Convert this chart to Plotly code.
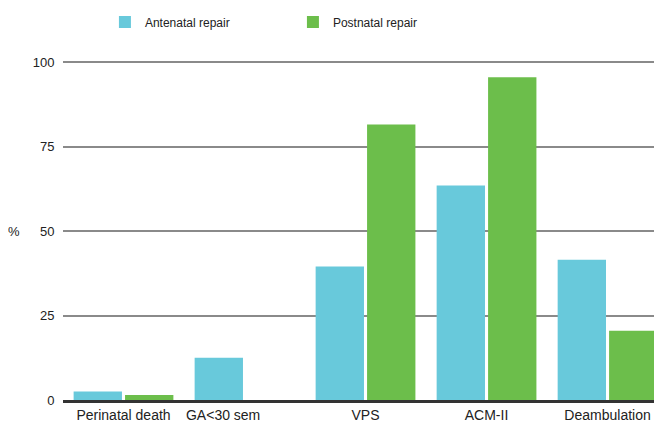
import plotly.graph_objects as go

categories = ["Perinatal death", "GA<30 sem", "VPS", "ACM-II", "Deambulation"]
tick_text = ["Perinatal death", "GA<30 sem" + "\u00a0" * 11, "VPS", "ACM-II", "Deambulation"]
antenatal = [2.5, 12.5, 39.5, 63.5, 41.5]
postnatal = [1.5, 0, 81.5, 95.5, 20.5]
tick_vals = [0, 25, 50, 75, 100]

CYAN = "#68C9DB"
GREEN = "#6CBE4B"
FONT = "Liberation Sans, Arial, sans-serif"

fig = go.Figure()
fig.add_trace(go.Bar(x=categories, y=antenatal, name="Antenatal repair",
                     marker=dict(color=CYAN, line=dict(width=0))))
fig.add_trace(go.Bar(x=categories, y=postnatal, name="Postnatal repair",
                     marker=dict(color=GREEN, line=dict(width=0))))

fig.update_layout(
    width=654, height=417,
    margin=dict(l=55, r=0, t=2, b=25, autoexpand=False),
    paper_bgcolor="white", plot_bgcolor="white",
    font=dict(family=FONT, size=13, color="#222"),
    barmode="group", bargap=0.15, bargroupgap=0.06,
    showlegend=True,
    legend=dict(orientation="h", x=0.07, xanchor="left", y=0.969, yanchor="middle",
                font=dict(size=12, color="#222"), bgcolor="rgba(0,0,0,0)",
                entrywidth=143, entrywidthmode="pixels", itemsizing="constant"),
    xaxis=dict(range=[-0.5, 4.45], showgrid=False, showline=True,
               tickvals=categories, ticktext=tick_text,
               linecolor="#333", linewidth=2.5, ticks="", tickfont=dict(size=14),
               fixedrange=True),
    yaxis=dict(range=[0, 115.4], tickvals=tick_vals, showgrid=True,
               gridcolor="#8a8a8a", gridwidth=1.5, zeroline=False,
               ticks="outside", ticklen=5, tickcolor="rgba(0,0,0,0)",
               tickfont=dict(size=13), showline=False),
)
fig.add_annotation(text="%", xref="paper", yref="y", x=(6 - 55) / 599, y=50,
                   showarrow=False, xanchor="center", yanchor="middle",
                   font=dict(size=13, color="#222"))

fig.write_html("out.html")
